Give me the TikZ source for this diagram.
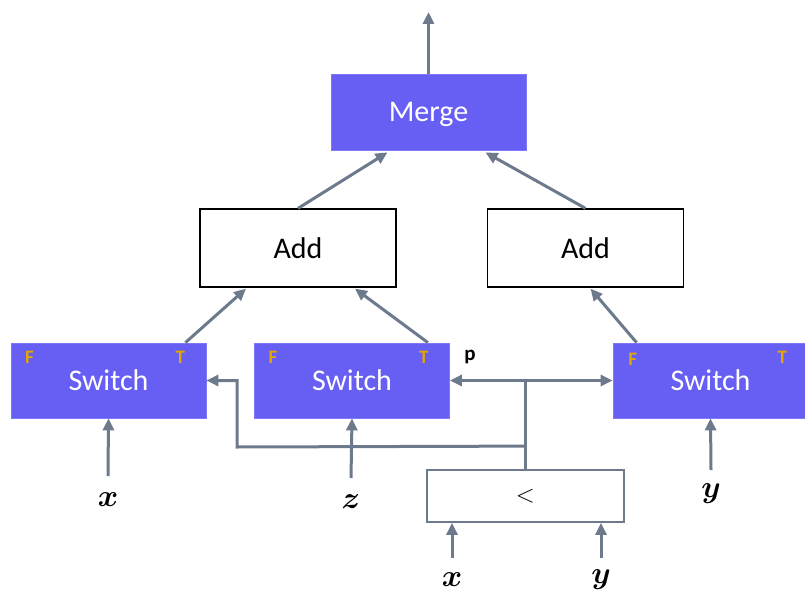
\RequirePackage{fix-cm}
\documentclass[tikz,border=0pt]{standalone}
\usepackage{fontspec}
\usepackage{bm}
\setmainfont{Carlito}
\usetikzlibrary{arrows.meta,calc}
\definecolor{opfill}{RGB}{103,95,244}
\definecolor{wire}{RGB}{108,122,140}
\definecolor{flag}{RGB}{226,166,0}
\tikzset{
  opbox/.style={draw=opfill!85!white,line width=0.8pt,fill=opfill,text=white,
    minimum width=195pt,minimum height=76pt,inner sep=0pt,text depth=0pt,
    font=\fontsize{30}{32}\selectfont},
  addbox/.style={draw=black,line width=1.3pt,fill=white,
    minimum width=196pt,minimum height=78pt,inner sep=0pt,
    font=\fontsize{30}{32}\selectfont},
  cmpbox/.style={draw=wire,line width=1.8pt,fill=white,
    minimum width=197pt,minimum height=52pt,inner sep=0pt,
    font=\fontsize{25}{27}\selectfont},
  flagtxt/.style={text=flag,font=\bfseries\fontsize{19}{21}\selectfont,inner sep=0pt},
  invar/.style={inner sep=0pt,font=\fontsize{31}{33}\selectfont},
  wireline/.style={draw=wire,line width=3pt},
  arr/.style={wireline,-{Triangle[length=12pt,width=11pt]}},
}
\begin{document}
\begin{tikzpicture}[x=1pt,y=-1pt]
\useasboundingbox (0,0) rectangle (805,599);

% operator boxes
\node[opbox] (Merge) at (428.5,112) {Merge};
\node[addbox] (AddL) at (298,248) {Add};
\node[addbox] (AddR) at (585.5,248) {Add};
\node[opbox,minimum height=75pt] (SwL) at (108.5,380.5) {Switch};
\node[opbox,minimum height=75pt] (SwM) at (352,380.5) {Switch};
\node[opbox,minimum height=75pt] (SwR) at (710.5,380.5) {Switch};
\node[cmpbox] (Lt) at (525.5,496) {$<$};

% branch flags
\node[flagtxt] (fL) at ($(SwL.north west)+(19,15)$) {F};
\node[flagtxt] (tL) at ($(SwL.north east)+(-26,15)$) {T};
\node[flagtxt] (fM) at ($(SwM.north west)+(19,15)$) {F};
\node[flagtxt] (tM) at ($(SwM.north east)+(-26,15)$) {T};
\node[flagtxt] (fR) at ($(SwR.north west)+(20,17)$) {F};
\node[flagtxt] (tR) at ($(SwR.north east)+(-26,15)$) {T};

% input variables
\node[invar] (xL) at (108,500) {$\bm{x}$};
\node[invar] (zM) at (351,502) {$\bm{z}$};
\node[invar] (yR) at (711,494) {$\bm{y}$};
\node[invar] (xB) at (452,580) {$\bm{x}$};
\node[invar] (yB) at (601,580) {$\bm{y}$};

% predicate label
\node[font=\bfseries\fontsize{21}{23}\selectfont,inner sep=0pt] (p) at (470,357) {p};

% output
\coordinate (out) at (428.5,12);
\draw[arr] (Merge.north) -- (out);

% into merge
\draw[arr] (AddL.north) -- ($(Merge.south)+(-41,2)$);
\draw[arr] (AddR.north) -- ($(Merge.south)+(57,2)$);

% into adds
\draw[arr] ($(SwL.north east)+(-21,0)$) -- ($(AddL.south)+(-52,1)$);
\draw[arr] ($(SwM.north east)+(-22,0)$) -- ($(AddL.south)+(57,1)$);
\draw[arr] ($(SwR.north west)+(24,0)$) -- ($(AddR.south)+(5,1)$);

% data inputs of switches
\draw[arr] ($(xL)+(0,-24)$) -- (SwL.south);
\draw[arr] ($(zM)+(0,-24)$) -- (SwM.south);
\draw[arr] ($(yR)+(0,-24)$) -- (SwR.south);

% inputs of the comparison
\draw[arr] ($(xB)+(0,-22)$) -- (Lt.south -| xB);
\draw[arr] ($(yB)+(0,-22)$) -- (Lt.south -| yB);

% predicate distribution
\coordinate (j) at (Lt.north |- SwM.east);
\coordinate (k) at ($(Lt.north)+(0,-23)$);
\coordinate (c) at (237,447);
\draw[wireline] (Lt.north) -- (j);
\draw[arr] (j) -- (SwM.east);
\draw[arr] (j) -- (SwR.west);
\draw[arr] (k) -- (c) |- (SwL.east);
\end{tikzpicture}
\end{document}
